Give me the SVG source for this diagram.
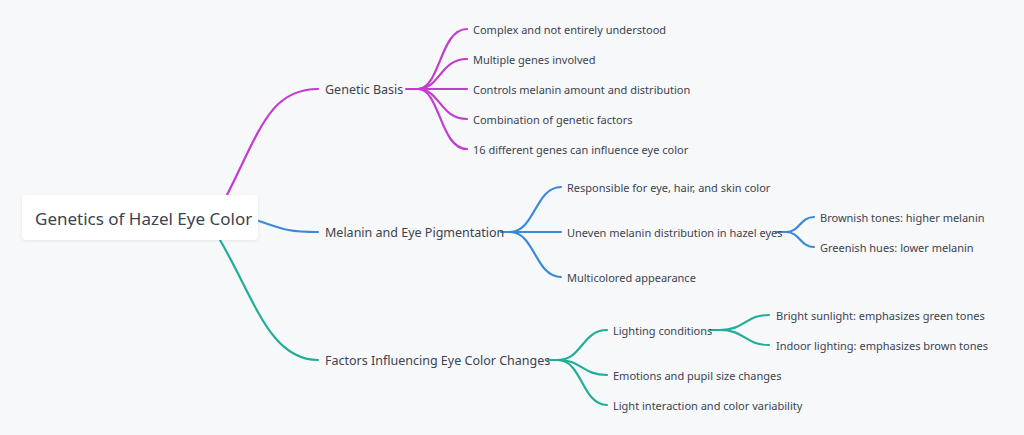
<svg xmlns="http://www.w3.org/2000/svg" width="1024" height="435" viewBox="0 0 1024 435">
<defs><style>
text{font-family:"Noto Sans","Open Sans",sans-serif;fill:#3c4350;dominant-baseline:central}
.l1{font-size:12.5px}.l2{font-size:11px}
path{fill:none;stroke-width:2.2;stroke-linecap:round}
.m{stroke:#c23ccf}.b{stroke:#3a8ad9}.t{stroke:#22ad9b}
</style>
<filter id="sh" x="-10%" y="-20%" width="120%" height="150%"><feDropShadow dx="0" dy="1" stdDeviation="1.5" flood-color="#000" flood-opacity="0.08"/></filter></defs>
<rect width="1024" height="435" fill="#f7f8fa"/>
<g id="connectors">
<path class="m" d="M227,195 C260,130 270,89 318,89"/>
<path class="b" d="M259,221 C285,230 290,232 318,232"/>
<path class="t" d="M220,240 C255,300 270,360 318,360"/>
<path class="m" d="M406,89 H418 C440,89 440,29 467,29"/>
<path class="m" d="M418,89 C440,89 440,59 467,59"/>
<path class="m" d="M418,89 H467"/>
<path class="m" d="M418,89 C440,89 440,119 467,119"/>
<path class="m" d="M418,89 C440,89 440,149 467,149"/>
<path class="b" d="M501,232 H510 C535,232 535,187 561,187"/>
<path class="b" d="M510,232 H561"/>
<path class="b" d="M510,232 C535,232 535,277 561,277"/>
<path class="b" d="M776,232 H786 C800,232 800,217 814,217"/>
<path class="b" d="M786,232 C800,232 800,247 814,247"/>
<path class="t" d="M548,360 H558 C582,360 582,330 607,330"/>
<path class="t" d="M558,360 C582,360 582,375 607,375"/>
<path class="t" d="M558,360 C582,360 582,405 607,405"/>
<path class="t" d="M710,330 H720 C745,330 745,315 769,315"/>
<path class="t" d="M720,330 C745,330 745,345 769,345"/>
</g>
<g id="root"><rect x="22" y="195" width="236" height="45" rx="4" fill="#fff" filter="url(#sh)"/><text x="35" y="218" style="font-size:17px">Genetics of Hazel Eye Color</text></g>
<g id="n1"><text class="l1" x="325" y="89">Genetic Basis</text></g>
<g id="n2"><text class="l1" x="325" y="232">Melanin and Eye Pigmentation</text></g>
<g id="n3"><text class="l1" x="325" y="360">Factors Influencing Eye Color Changes</text></g>
<g id="n1a"><text class="l2" x="473" y="29">Complex and not entirely understood</text></g>
<g id="n1b"><text class="l2" x="473" y="59">Multiple genes involved</text></g>
<g id="n1c"><text class="l2" x="473" y="89">Controls melanin amount and distribution</text></g>
<g id="n1d"><text class="l2" x="473" y="119">Combination of genetic factors</text></g>
<g id="n1e"><text class="l2" x="473" y="149">16 different genes can influence eye color</text></g>
<g id="n2a"><text class="l2" x="567" y="187">Responsible for eye, hair, and skin color</text></g>
<g id="n2b"><text class="l2" x="567" y="232">Uneven melanin distribution in hazel eyes</text></g>
<g id="n2c"><text class="l2" x="567" y="277">Multicolored appearance</text></g>
<g id="n2b1"><text class="l2" x="820" y="217">Brownish tones: higher melanin</text></g>
<g id="n2b2"><text class="l2" x="820" y="247">Greenish hues: lower melanin</text></g>
<g id="n3a"><text class="l2" x="613" y="330">Lighting conditions</text></g>
<g id="n3b"><text class="l2" x="613" y="375">Emotions and pupil size changes</text></g>
<g id="n3c"><text class="l2" x="613" y="405">Light interaction and color variability</text></g>
<g id="n3a1"><text class="l2" x="776" y="315">Bright sunlight: emphasizes green tones</text></g>
<g id="n3a2"><text class="l2" x="776" y="345">Indoor lighting: emphasizes brown tones</text></g>
</svg>
